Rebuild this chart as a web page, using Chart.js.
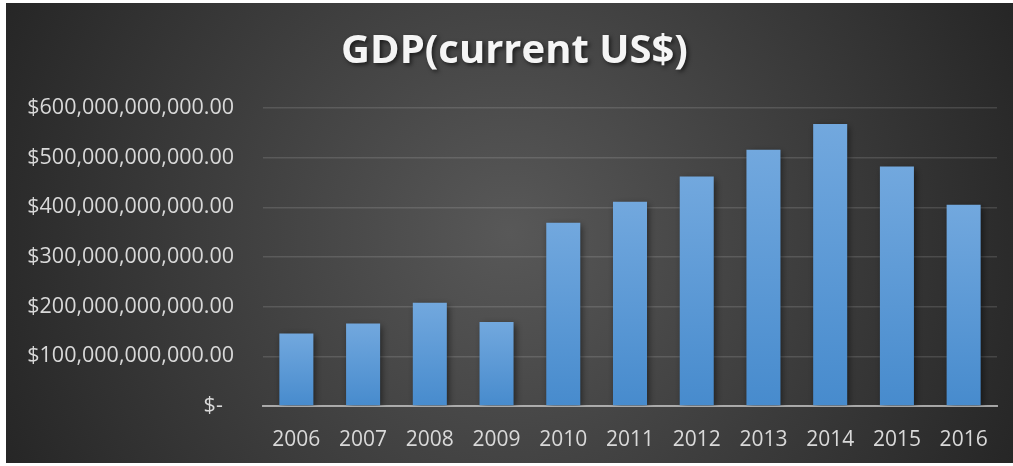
<!DOCTYPE html>
<html>
<head>
<meta charset="utf-8">
<script src="https://cdn.jsdelivr.net/npm/chart.js@4/dist/chart.umd.min.js"></script>
<style>
  html, body { margin: 0; padding: 0; background: #ffffff; }
  #wrap { width: 1013px; height: 466px; position: relative; }
</style>
</head>
<body>
<div id="wrap"><canvas id="c" width="1013" height="466"></canvas></div>
<script>
const titleText = 'GDP(current US$)';
const categories = ['2006','2007','2008','2009','2010','2011','2012','2013','2014','2015','2016'];
const gdpValues = [146e9, 166e9, 208e9, 169e9, 369e9, 411e9, 462e9, 516e9, 568e9, 482e9, 405e9];
const yTickMax = 600e9;
const yTickStep = 100e9;

const bgPlugin = {
  id: 'bg',
  beforeDraw(chart) {
    const ctx = chart.ctx;
    const x0 = 6, y0 = 3, x1 = chart.width, y1 = 463;
    ctx.save();
    const cx = (x0 + x1) / 2, cy = (y0 + y1) / 2;
    const g = ctx.createRadialGradient(cx, cy, 0, cx, cy, (x1 - x0) * 0.55);
    g.addColorStop(0, '#585858');
    g.addColorStop(1, '#262626');
    ctx.fillStyle = g;
    ctx.fillRect(x0, y0, x1 - x0, y1 - y0);
    ctx.restore();
  },
  beforeDatasetsDraw(chart) {
    const ctx = chart.ctx;
    ctx.save();
    ctx.shadowColor = 'rgba(0,0,0,0.55)';
    ctx.shadowBlur = 7;
    ctx.shadowOffsetX = 2;
    ctx.shadowOffsetY = 2;
  },
  afterDatasetsDraw(chart) {
    chart.ctx.restore();
  }
};

function fmt(v) {
  if (v === 0) return '$-  ';
  return '$' + v.toLocaleString('en-US', { minimumFractionDigits: 2, maximumFractionDigits: 2 });
}

const chart = new Chart(document.getElementById('c'), {
  type: 'bar',
  data: {
    labels: categories,
    datasets: [{
      data: gdpValues,
      backgroundColor(context) {
        const ch = context.chart;
        if (!ch.chartArea || context.raw == null) return '#5b9bd5';
        const y = ch.scales.y;
        const top = y.getPixelForValue(context.raw);
        const bot = y.getPixelForValue(0);
        const g = ch.ctx.createLinearGradient(0, top, 0, bot);
        g.addColorStop(0, '#72a8de');
        g.addColorStop(1, '#478bcd');
        return g;
      },
      borderWidth: 0,
      barPercentage: 0.51,
      categoryPercentage: 1.0
    }]
  },
  options: {
    responsive: false,
    animation: false,
    events: [],
    layout: { padding: { left: 6, top: 3, right: 16, bottom: 3 } },
    plugins: {
      legend: { display: false },
      tooltip: { enabled: false },
      title: {
        display: true,
        text: titleText,
        color: '#f5f5f5',
        font: { family: 'Open Sans', size: 40, weight: 'bold', lineHeight: 1.2 },
        padding: { top: 25, bottom: 32 }
      }
    },
    scales: {
      x: {
        z: 1,
        grid: { display: false },
        border: { display: true, color: 'rgba(200,200,200,0.75)', width: 2 },
        ticks: { color: '#d9d9d9', font: { family: 'Open Sans', size: 21 }, padding: 13, maxRotation: 0 },
        afterFit(s) { s.height = 466 - 406 - 3; }
      },
      y: {
        min: 0,
        max: yTickMax,
        grid: { color: 'rgba(255,255,255,0.13)', lineWidth: 1.5, drawTicks: false },
        border: { display: false },
        ticks: { stepSize: yTickStep, color: '#d9d9d9', font: { family: 'Open Sans', size: 21.5 }, padding: 29, callback: fmt },
        afterFit(s) { s.width = 263 - 6; }
      }
    }
  },
  plugins: [bgPlugin]
});

// title text shadow, slight right offset as in the reference
const tb = chart.titleBlock;
const origDraw = tb.draw.bind(tb);
tb.draw = function() {
  const ctx = chart.ctx;
  ctx.save();
  ctx.translate(13, 0);
  ctx.shadowColor = 'rgba(0,0,0,0.6)';
  ctx.shadowBlur = 4;
  ctx.shadowOffsetX = 2;
  ctx.shadowOffsetY = 2;
  origDraw();
  ctx.restore();
};
chart.draw();
</script>
</body>
</html>
